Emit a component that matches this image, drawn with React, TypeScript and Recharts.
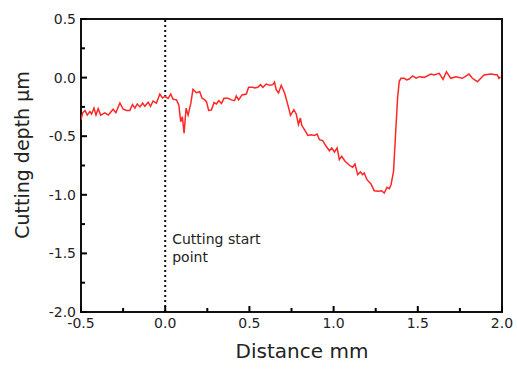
import React from 'react';
import { LineChart, Line, XAxis, YAxis, ReferenceLine, ReferenceArea, Label } from 'recharts';

// Surface profile
const distance = [
  -0.5, -0.49, -0.476, -0.463, -0.447, -0.437, -0.423, -0.411, -0.398, -0.383, -0.358, -0.338, -0.309,
  -0.293, -0.269, -0.249, -0.229, -0.21, -0.194, -0.18, -0.166, -0.15, -0.134, -0.121, -0.101, -0.087,
  -0.072, -0.052, -0.032, -0.016, -0.002, 0.017, 0.033, 0.047, 0.067, 0.081, 0.092, 0.102, 0.112, 0.124,
  0.136, 0.152, 0.165, 0.185, 0.205, 0.219, 0.235, 0.245, 0.258, 0.274, 0.29, 0.304, 0.318, 0.334, 0.349,
  0.373, 0.393, 0.412, 0.422, 0.436, 0.456, 0.482, 0.495, 0.521, 0.531, 0.55, 0.566, 0.58, 0.6, 0.62,
  0.639, 0.649, 0.659, 0.673, 0.689, 0.709, 0.728, 0.744, 0.764, 0.778, 0.791, 0.803, 0.811, 0.827, 0.847,
  0.867, 0.886, 0.902, 0.916, 0.935, 0.956, 0.975, 0.989, 1.005, 1.021, 1.034, 1.048, 1.068, 1.094, 1.113,
  1.127, 1.143, 1.159, 1.172, 1.182, 1.198, 1.222, 1.241, 1.265, 1.285, 1.301, 1.317, 1.331, 1.341, 1.356,
  1.37, 1.38, 1.39, 1.4, 1.419, 1.435, 1.449, 1.469, 1.49, 1.508, 1.538, 1.578, 1.597, 1.627, 1.65, 1.67,
  1.696, 1.726, 1.765, 1.804, 1.824, 1.854, 1.893, 1.933, 1.972, 1.982, 1.99,
];
const depth = [
  -0.36, -0.3, -0.28, -0.32, -0.29, -0.31, -0.26, -0.32, -0.265, -0.32, -0.3, -0.32, -0.27,
  -0.3, -0.217, -0.27, -0.28, -0.28, -0.23, -0.26, -0.225, -0.25, -0.217, -0.245, -0.21, -0.245,
  -0.2, -0.217, -0.14, -0.174, -0.16, -0.177, -0.14, -0.185, -0.19, -0.234, -0.376, -0.333, -0.475, -0.262,
  -0.32, -0.22, -0.1, -0.129, -0.12, -0.177, -0.19, -0.205, -0.28, -0.277, -0.214, -0.225, -0.197, -0.22, -0.177,
  -0.177, -0.19, -0.197, -0.157, -0.19, -0.148, -0.14, -0.083, -0.083, -0.089, -0.083, -0.06, -0.083, -0.055, -0.066,
  -0.06, -0.038, -0.103, -0.131, -0.066, -0.131, -0.231, -0.322, -0.274, -0.31, -0.4, -0.345, -0.407, -0.444, -0.493,
  -0.487, -0.493, -0.481, -0.53, -0.538, -0.586, -0.624, -0.6, -0.635, -0.6, -0.7, -0.672, -0.714, -0.748, -0.765,
  -0.737, -0.828, -0.805, -0.828, -0.814, -0.871, -0.908, -0.965, -0.97, -0.965, -0.985, -0.936, -0.948, -0.914, -0.8,
  -0.43, -0.174, -0.032, -0.006, -0.006, -0.02, -0.012, 0.014, -0.004, 0.008, 0.002, 0.03, 0.022, 0.036, -0.015, 0.05,
  -0.006, 0.008, -0.006, 0.03, -0.006, -0.035, 0.022, 0.03, 0.022, -0.006, 0.008,
];

const xTicks = [-0.5, -0.25, 0, 0.25, 0.5, 0.75, 1, 1.25, 1.5, 1.75, 2];
const yTicks = [-2, -1.75, -1.5, -1.25, -1, -0.75, -0.5, -0.25, 0, 0.25, 0.5];

const data = distance.map((d, i) => ({ distance: d, depth: depth[i] }));

const FONT = '"DejaVu Sans", Verdana, sans-serif';
const isMajor = (v: number) => Math.abs(v * 2 - Math.round(v * 2)) < 1e-6;

const XTick = ({ x, y, payload }: any) => {
  const v = payload.value;
  const major = isMajor(v);
  return (
    <g>
      <line x1={x} y1={y} x2={x} y2={y - (major ? 6 : 4)} stroke="#000" strokeWidth={2} />
      {major && (
        <text x={x} y={y + 16} textAnchor="middle" fontSize={14} fontFamily={FONT} fill="#222">
          {v.toFixed(1)}
        </text>
      )}
    </g>
  );
};

const YTick = ({ x, y, payload }: any) => {
  const v = payload.value;
  const major = isMajor(v);
  return (
    <g>
      <line x1={x} y1={y} x2={x + (major ? 6 : 4)} y2={y} stroke="#000" strokeWidth={2} />
      {major && (
        <text x={x - 5} y={y + 5} textAnchor="end" fontSize={14} fontFamily={FONT} fill="#222">
          {v.toFixed(1)}
        </text>
      )}
    </g>
  );
};

export default function App() {
  return (
    <div style={{ position: 'absolute', left: 0, top: 0, background: '#fff' }}>
      <LineChart width={517} height={371} data={data} margin={{ top: 19, right: 15, bottom: 0, left: 0 }}>
        <XAxis
          type="number"
          dataKey="distance"
          domain={[-0.5, 2]}
          ticks={xTicks}
          tick={<XTick />}
          tickLine={false}
          tickSize={0}
          tickMargin={0}
          height={59}
          axisLine={false}
          allowDataOverflow
        >
          <Label
            content={() => (
              <text x={302} y={358} textAnchor="middle" fontSize={20} fontFamily={FONT} fill="#222">
                Distance mm
              </text>
            )}
          />
        </XAxis>
        <YAxis
          type="number"
          domain={[-2, 0.5]}
          ticks={yTicks}
          tick={<YTick />}
          tickLine={false}
          tickSize={0}
          tickMargin={0}
          width={81}
          axisLine={false}
          allowDataOverflow
        >
          <Label
            content={() => (
              <text
                x={29}
                y={155}
                transform="rotate(-90 29 155)"
                textAnchor="middle"
                fontSize={19}
                fontFamily={FONT}
                fill="#222"
              >
                Cutting depth µm
              </text>
            )}
          />
        </YAxis>
        <ReferenceArea x1={-0.5} x2={2} y1={-2} y2={0.5} fill="none" stroke="#111" strokeWidth={2} />
        <ReferenceLine x={0} stroke="#111" strokeWidth={2} strokeDasharray="2 3">
          <Label
            content={({ viewBox }: any) => (
              <text fontSize={14} fontFamily={FONT} fill="#222">
                <tspan x={viewBox.x + 7} y={244}>Cutting start</tspan>
                <tspan x={viewBox.x + 7} y={262}>point</tspan>
              </text>
            )}
          />
        </ReferenceLine>
        <Line
          isAnimationActive={false}
          type="linear"
          dataKey="depth"
          stroke="#ff2626"
          strokeWidth={1.5}
          dot={false}
        />
      </LineChart>
    </div>
  );
}
